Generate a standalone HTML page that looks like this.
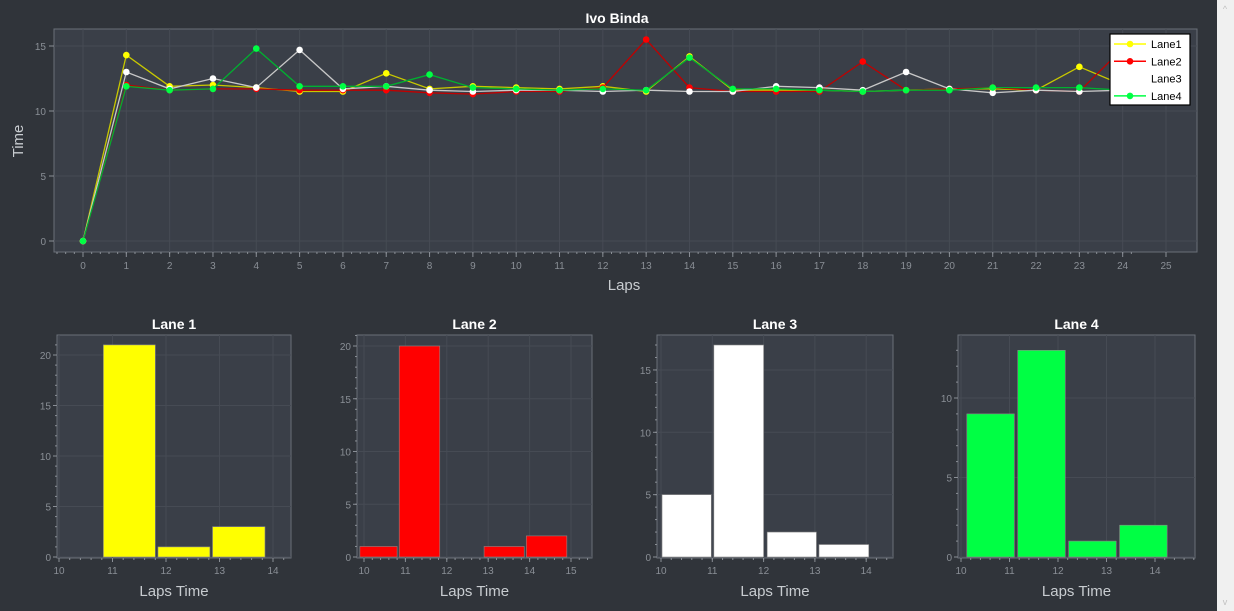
<!DOCTYPE html>
<html><head><meta charset="utf-8"><style>
html,body{margin:0;padding:0;background:#30343a;width:1234px;height:611px;overflow:hidden}
svg{display:block;font-family:"Liberation Sans",sans-serif}
</style></head><body>
<svg id="s" width="1234" height="611" xmlns="http://www.w3.org/2000/svg">
<rect width="1234" height="611" fill="#30343a"/>
<rect x="1217" y="0" width="17" height="611" fill="#f0f0f0"/>
<text x="1225" y="12" font-size="9" fill="#c0c0c0" text-anchor="middle">^</text>
<text x="1225" y="605" font-size="9" fill="#c0c0c0" text-anchor="middle">v</text>
</svg>
<script>
const s=document.getElementById('s');
function el(t,a,txt){const e=document.createElementNS('http://www.w3.org/2000/svg',t);for(const k in a)e.setAttribute(k,a[k]);if(txt!==undefined)e.textContent=txt;s.appendChild(e);return e;}
const grid='#464b54',tickc='#8a8f96',frame='#6a6f78';
// ---- top chart
const L=54,R=1197,T=29,B=252;
el('rect',{x:L,y:T,width:R-L,height:B-T,fill:'#3a3f48',stroke:frame,'stroke-width':1});
const X=v=>83+v*43.32, Y=v=>241-13*v;
for(let i=0;i<=25;i++){el('line',{x1:X(i),x2:X(i),y1:T,y2:B,stroke:grid});el('text',{x:X(i),y:269,'font-size':10,fill:tickc,'text-anchor':'middle'},i);el('line',{x1:X(i),x2:X(i),y1:B,y2:B+5,stroke:tickc});}
for(let i=0;i<125;i++){const x=X(i/5-0.6);if(x>L&&x<R)el('line',{x1:x,x2:x,y1:B,y2:B+2,stroke:tickc});}
for(const v of [0,5,10,15]){el('line',{x1:L,x2:R,y1:Y(v),y2:Y(v),stroke:grid});el('text',{x:46,y:Y(v)+4,'font-size':10,fill:tickc,'text-anchor':'end'},v);el('line',{x1:L-5,x2:L,y1:Y(v),y2:Y(v),stroke:tickc});}
el('text',{x:617,y:23,'font-size':14,'font-weight':'bold',fill:'#fff','text-anchor':'middle'},'Ivo Binda');
el('text',{x:624,y:290,'font-size':15,fill:'#c8ccd0','text-anchor':'middle'},'Laps');
el('text',{x:23,y:141,'font-size':15,fill:'#c8ccd0','text-anchor':'middle',transform:'rotate(-90 23 141)'},'Time');
const D=[
['#ffff00','#c8c800',[0,14.3,11.9,12.0,11.8,11.5,11.5,12.9,11.7,11.9,11.8,11.7,11.9,11.5,14.2,11.6,11.6,11.6,11.5,11.6,11.7,11.7,11.6,13.4,12.0]],
['#ff0000','#c00000',[0,12.0,11.6,11.7,11.7,11.6,11.6,11.6,11.4,11.3,11.5,11.5,11.8,15.5,11.8,11.5,11.5,11.5,13.8,11.6,11.7,11.8,11.6,11.5,14.8]],
['#ffffff','#c8c8c8',[0,13.0,11.7,12.5,11.8,14.7,11.7,11.9,11.6,11.5,11.6,11.6,11.5,11.6,11.5,11.5,11.9,11.8,11.6,13.0,11.7,11.4,11.6,11.5,11.6]],
['#00ff44','#00b030',[0,11.9,11.6,11.7,14.8,11.9,11.9,11.9,12.8,11.8,11.7,11.6,11.7,11.6,14.1,11.7,11.7,11.6,11.5,11.6,11.6,11.8,11.8,11.8,11.6]]];
for(const [c,lc,d] of D){el('polyline',{points:d.map((v,i)=>X(i)+','+Y(v)).join(' '),fill:'none',stroke:lc,'stroke-width':1.3});for(let i=0;i<d.length;i++)el('circle',{cx:X(i),cy:Y(d[i]),r:3.3,fill:c});}
el('rect',{x:1110,y:34,width:80,height:71,fill:'#fff',stroke:'#000','stroke-width':1.2});
['Lane1','Lane2','Lane3','Lane4'].forEach((n,i)=>{const y=44+i*17.3;const c=['#ffff00','#ff0000','#ffffff','#00ff44'][i];
if(i!=2){el('line',{x1:1114,x2:1146,y1:y,y2:y,stroke:c,'stroke-width':1.5});el('circle',{cx:1130,cy:y,r:3.3,fill:c});}
el('text',{x:1151,y:y+4,'font-size':11,fill:'#000'},n);});
// ---- histograms
const H=[
{t:'Lane 1',l:57,r:291,x0:59,sx:53.5,sy:10.1,xt:[10,11,12,13,14],yt:[0,5,10,15,20],c:'#ffff00',bars:[[10.83,11.8,21],[11.85,12.82,1],[12.87,13.85,3]]},
{t:'Lane 2',l:357,r:592,x0:364,sx:41.4,sy:10.55,xt:[10,11,12,13,14,15],yt:[0,5,10,15,20],c:'#ff0000',bars:[[9.9,10.8,1],[10.85,11.83,20],[12.9,13.87,1],[13.92,14.9,2]]},
{t:'Lane 3',l:657,r:893,x0:661,sx:51.3,sy:12.47,xt:[10,11,12,13,14],yt:[0,5,10,15],c:'#ffffff',bars:[[10.02,10.98,5],[11.03,12.0,17],[12.07,13.03,2],[13.08,14.05,1]]},
{t:'Lane 4',l:958,r:1195,x0:961,sx:48.5,sy:15.9,xt:[10,11,12,13,14],yt:[0,5,10],c:'#00ff44',bars:[[10.12,11.1,9],[11.17,12.15,13],[12.22,13.2,1],[13.27,14.25,2]]}];
for(const h of H){const t=335,b=557,bx=b+1;
el('rect',{x:h.l,y:t,width:h.r-h.l,height:bx-t,fill:'#3a3f48',stroke:frame});
const hx=v=>h.x0+(v-10)*h.sx, hy=v=>b-v*h.sy;
for(const v of h.xt){el('line',{x1:hx(v),x2:hx(v),y1:t,y2:bx,stroke:grid});el('line',{x1:hx(v),x2:hx(v),y1:bx,y2:bx+4,stroke:tickc});el('text',{x:hx(v),y:bx+16,'font-size':10,fill:tickc,'text-anchor':'middle'},v);}
for(let v=10;v<16;v+=0.2){const x=hx(v);if(x>h.l&&x<h.r)el('line',{x1:x,x2:x,y1:bx,y2:bx+2,stroke:tickc});}
for(const v of h.yt){el('line',{x1:h.l,x2:h.r,y1:hy(v),y2:hy(v),stroke:grid});el('line',{x1:h.l-4,x2:h.l,y1:hy(v),y2:hy(v),stroke:tickc});el('text',{x:h.l-6,y:hy(v)+4,'font-size':10,fill:tickc,'text-anchor':'end'},v);}
for(let v=1;v*h.sy<b-t;v++)el('line',{x1:h.l-2,x2:h.l,y1:hy(v),y2:hy(v),stroke:tickc});
for(const [a,c2,n] of h.bars)el('rect',{x:hx(a),y:hy(n),width:hx(c2)-hx(a),height:n*h.sy,fill:h.c,stroke:'#888','stroke-width':0.6});
const cx=(h.l+h.r)/2;
el('text',{x:cx,y:329,'font-size':14,'font-weight':'bold',fill:'#fff','text-anchor':'middle'},h.t);
el('text',{x:cx,y:596,'font-size':15,fill:'#c8ccd0','text-anchor':'middle'},'Laps Time');}
</script>
</body></html>
